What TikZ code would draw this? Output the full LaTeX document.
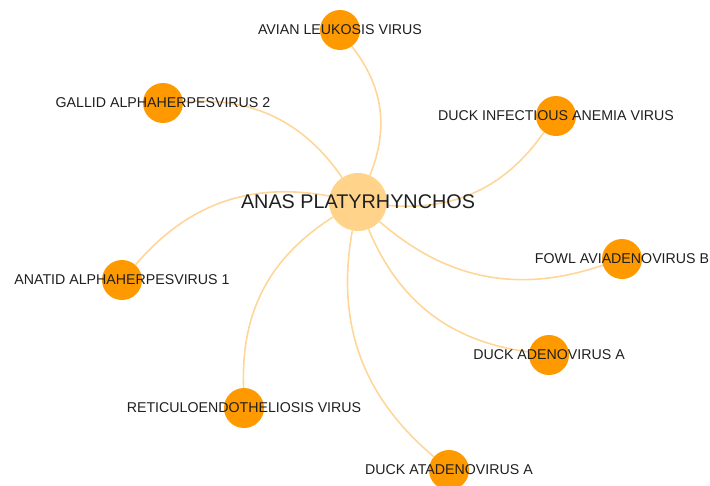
\documentclass[tikz,border=0pt]{standalone}
\usepackage{fontspec}
\setmainfont{Liberation Sans}
\usetikzlibrary{backgrounds}

\definecolor{hubfill}{HTML}{FFD48A}
\definecolor{virusfill}{HTML}{FF9900}
\definecolor{linkcol}{HTML}{FFD699}

\begin{document}
\begin{tikzpicture}[
    x=1pt, y=1pt,
    hub/.style={circle, fill=hubfill, minimum size=58pt, inner sep=0pt},
    virus/.style={circle, fill=virusfill, minimum size=40pt, inner sep=0pt},
    lbl/.style={inner sep=0pt, text=black!88, font=\fontsize{14.2}{16}\selectfont},
    hublbl/.style={lbl, font=\fontsize{19.8}{22}\selectfont},
    link/.style={draw=linkcol, line width=1.6pt, bend right=30},
]
\useasboundingbox (0,0) rectangle (710,-485);

% Host and viruses
\node[hub] (anas) at (358,-202) {};
\node[virus] (alv) at (340,-30) {};
\node[virus] (gahv) at (163,-103) {};
\node[virus] (diav) at (556,-116) {};
\node[virus] (aahv) at (122,-280) {};
\node[virus] (rev) at (244,-408) {};
\node[virus] (fadv) at (622,-259) {};
\node[virus] (dadv) at (549,-355) {};
\node[virus] (datv) at (449,-470) {};

% Links
\begin{scope}[on background layer]
\draw[link] (anas) to (alv);
\draw[link] (anas) to (gahv);
\draw[link] (anas) to (diav);
\draw[link] (anas) to (aahv);
\draw[link] (anas) to (rev);
\draw[link] (anas) to (fadv);
\draw[link] (anas) to (dadv);
\draw[link] (anas) to (datv);
\end{scope}

% Labels
\node[hublbl] (anas-t) at (anas) {ANAS PLATYRHYNCHOS};
\node[lbl] (alv-t) at (alv) {AVIAN LEUKOSIS VIRUS};
\node[lbl] (gahv-t) at (gahv) {GALLID ALPHAHERPESVIRUS 2};
\node[lbl] (diav-t) at (diav) {DUCK INFECTIOUS ANEMIA VIRUS};
\node[lbl] (aahv-t) at (aahv) {ANATID ALPHAHERPESVIRUS 1};
\node[lbl] (rev-t) at (rev) {RETICULOENDOTHELIOSIS VIRUS};
\node[lbl] (fadv-t) at (fadv) {FOWL AVIADENOVIRUS B};
\node[lbl] (dadv-t) at (dadv) {DUCK ADENOVIRUS A};
\node[lbl] (datv-t) at (datv) {DUCK ATADENOVIRUS A};

\end{tikzpicture}
\end{document}
